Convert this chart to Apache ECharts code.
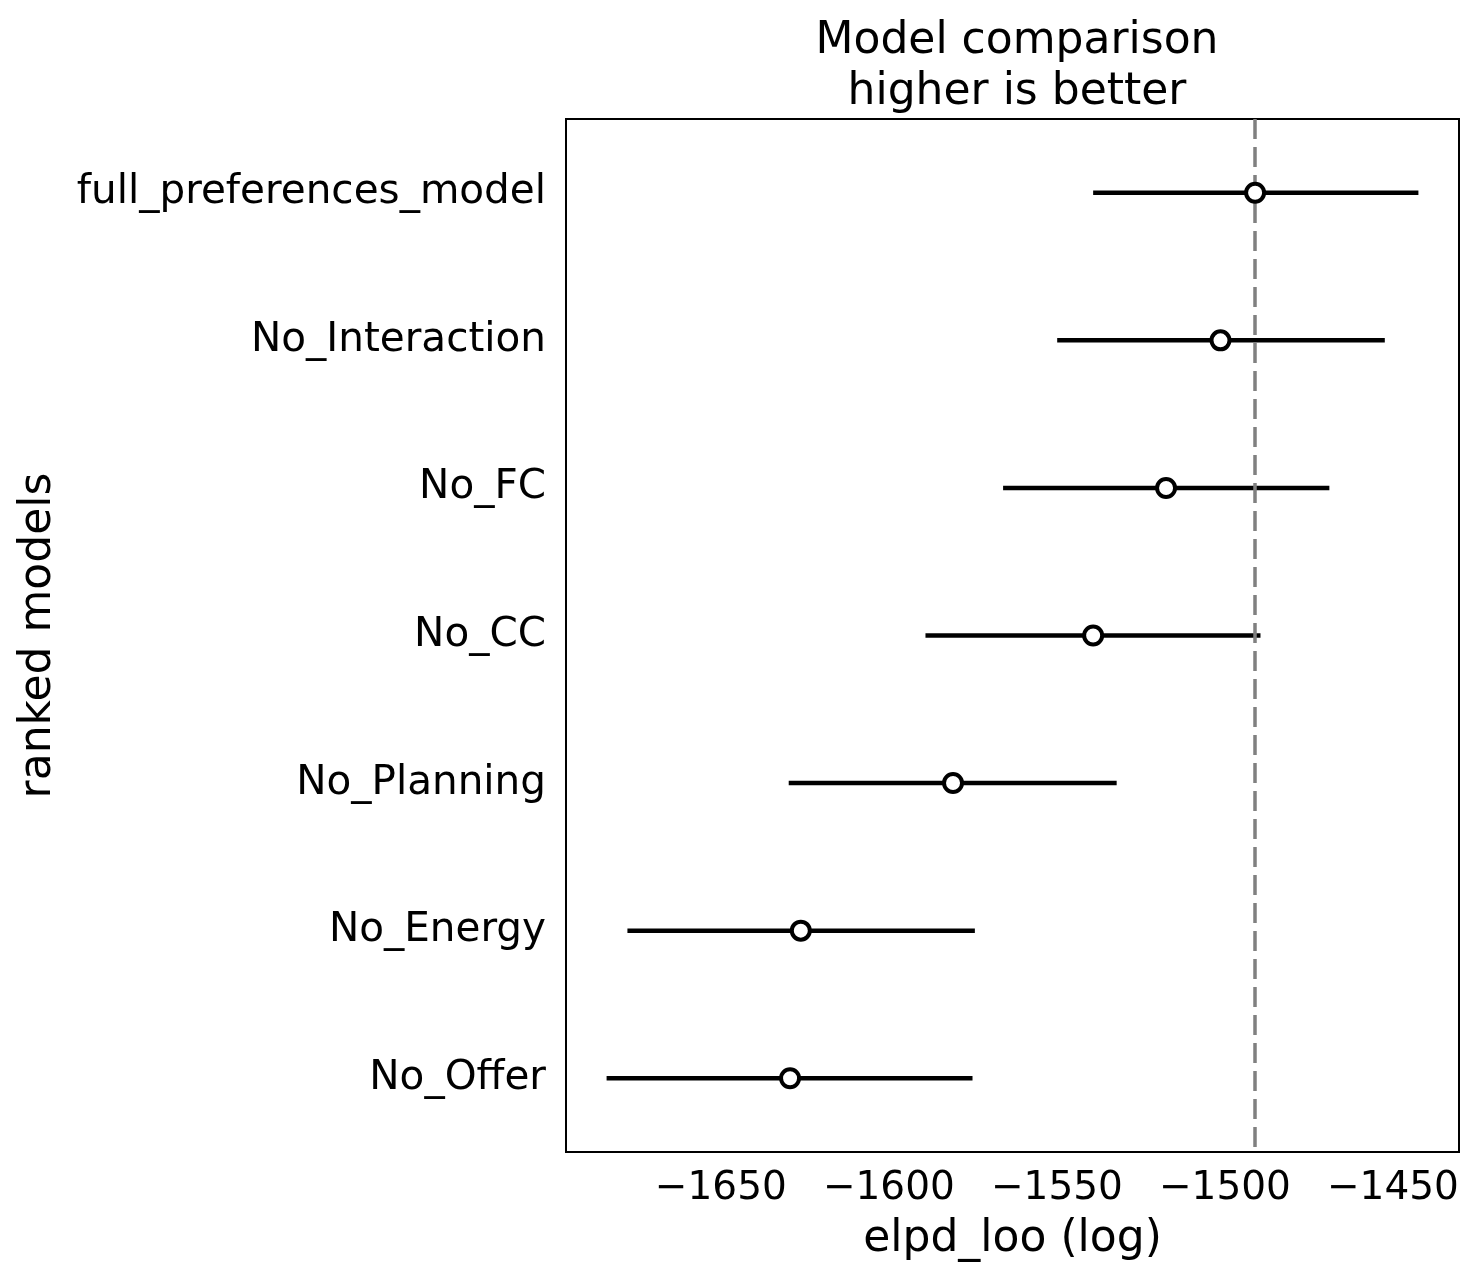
<!DOCTYPE html>
<html>
<head>
<meta charset="utf-8">
<title>Model comparison</title>
<script src="https://cdn.jsdelivr.net/npm/echarts@6/dist/echarts.min.js"></script>
<style>
  html, body { margin: 0; padding: 0; background: #fff; }
  #chart { width: 1481px; height: 1287px; }
</style>
</head>
<body>
<div id="chart"></div>
<script>
// models ranked best to worst
var models = ['full_preferences_model', 'No_Interaction', 'No_FC', 'No_CC', 'No_Planning', 'No_Energy', 'No_Offer']
// elpd_loo point estimates
var elpd = [-1491.0, -1501.3, -1517.5, -1539.2, -1580.9, -1626.2, -1629.4]
// error bar ends (elpd -/+ se)
var lower = [-1539.2, -1549.9, -1566.0, -1589.1, -1629.8, -1677.8, -1684.0]
var upper = [-1442.4, -1452.4, -1468.9, -1489.4, -1532.2, -1574.4, -1575.1]
var xTicks = [-1650, -1600, -1550, -1500, -1450]

var font = 'DejaVu Sans'

// matplotlib style limits: data range plus 5% margin
var lo = Math.min.apply(null, lower)
var hi = Math.max.apply(null, upper)
var pad = (hi - lo) * 0.05

var barData = []
var pointData = []
for (var i = 0; i < models.length; i++) {
  barData.push([lower[i], upper[i], i])
  pointData.push([elpd[i], i])
}

var myChart = echarts.init(document.getElementById('chart'))

var option = {
  animation: false,
  backgroundColor: '#fff',
  title: {
    text: 'Model comparison\nhigher is better',
    left: 1012,
    top: 11,
    textAlign: 'center',
    textStyle: { fontFamily: font, fontSize: 44, fontWeight: 'normal', color: '#000', lineHeight: 51 }
  },
  grid: {
    left: 566, top: 119, right: 22, bottom: 135,
    show: true, borderColor: '#000', borderWidth: 2
  },
  xAxis: {
    type: 'value',
    min: lo - pad,
    max: hi + pad,
    name: 'elpd_loo (log)',
    nameLocation: 'middle',
    nameGap: 66,
    nameTextStyle: { fontFamily: font, fontSize: 44, color: '#000' },
    splitLine: { show: false },
    axisLine: { lineStyle: { color: '#000', width: 2 } },
    axisTick: { length: 9, lineStyle: { color: '#000', width: 2 }, customValues: xTicks },
    axisLabel: {
      fontFamily: font, fontSize: 39, color: '#000', margin: 17,
      customValues: xTicks,
      formatter: function(v) { return String(v).replace('-', '\u2212') }
    }
  },
  yAxis: {
    type: 'category',
    data: models,
    inverse: true,
    name: 'ranked models',
    nameLocation: 'middle',
    nameRotate: 90,
    nameGap: 505,
    nameTextStyle: { fontFamily: font, fontSize: 44, color: '#000' },
    axisLine: { lineStyle: { color: '#000', width: 2 } },
    axisTick: { alignWithLabel: true, length: 9, lineStyle: { color: '#000', width: 2 } },
    axisLabel: { fontFamily: font, fontSize: 40.5, color: '#000', margin: 20, padding: [7, 0, 0, 0] },
    splitLine: { show: false }
  },
  series: [{
    // error bars
    type: 'custom',
    z: 2,
    data: barData,
    encode: { x: [0, 1], y: 2 },
    renderItem: function(params, api) {
      var a = api.coord([api.value(0), api.value(2)])
      var b = api.coord([api.value(1), api.value(2)])
      return {
        type: 'line',
        shape: { x1: a[0], y1: a[1], x2: b[0], y2: b[1] },
        style: { stroke: '#000', lineWidth: 4.5 }
      }
    }
  }, {
    // reference line at the best model
    type: 'scatter',
    z: 3,
    data: [],
    markLine: {
      silent: true,
      symbol: 'none',
      label: { show: false },
      lineStyle: { color: '#808080', width: 3.5, type: [20, 8] },
      data: [{ xAxis: elpd[0] }]
    }
  }, {
    // elpd points
    type: 'scatter',
    z: 5,
    data: pointData,
    symbol: 'circle',
    symbolSize: 18,
    itemStyle: { color: '#fff', borderColor: '#000', borderWidth: 4, opacity: 1 }
  }]
}

myChart.setOption(option, true)
window.onresize = () => {
  myChart.resize()
}
</script>
</body>
</html>
